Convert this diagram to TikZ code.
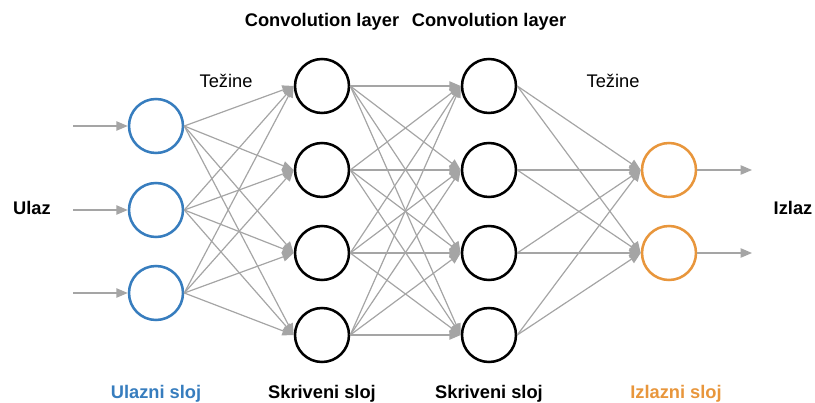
\documentclass[tikz,border=0pt]{standalone}
\usepackage{fontspec}
\setmainfont{Liberation Sans}
\usetikzlibrary{arrows.meta}
\definecolor{inblue}{RGB}{55,125,190}
\definecolor{outorange}{RGB}{232,150,60}
\definecolor{edgegray}{RGB}{165,165,165}
\begin{document}
\begin{tikzpicture}[x=0.75pt,y=-0.75pt,
  neuron/.style={circle,draw,line width=1.9pt,minimum size=40.5pt,inner sep=0pt},
  conn/.style={draw=edgegray,line width=0.9pt,-{Triangle[length=8.5pt,width=7pt]}},
  lbl/.style={font=\fontsize{13.7}{16}\selectfont,inner sep=0pt},
  blbl/.style={font=\fontsize{13.7}{16}\selectfont\bfseries,inner sep=0pt}]
\useasboundingbox (0,0) rectangle (815,403);
% input layer
\foreach \i/\y in {1/126,2/210,3/293} {
  \node[neuron,draw=inblue] (i\i) at (156,\y) {};
  \coordinate (s\i) at (73,\y);
  \draw[conn] (s\i) -- (i\i.west);
}
% hidden layers
\foreach \i/\y in {1/86,2/170,3/253,4/335} {
  \node[neuron,draw=black] (h\i) at (322,\y) {};
  \node[neuron,draw=black] (g\i) at (489,\y) {};
}
% output layer
\foreach \i/\y in {1/170,2/253} {
  \node[neuron,draw=outorange] (o\i) at (669,\y) {};
  \coordinate (e\i) at (752,\y);
  \draw[conn] (o\i.east) -- (e\i);
}
% connections
\foreach \a in {1,2,3} \foreach \b in {1,2,3,4} \draw[conn] (i\a.east) -- (h\b.west);
\foreach \a in {1,2,3,4} \foreach \b in {1,2,3,4} \draw[conn] (h\a.east) -- (g\b.west);
\foreach \a in {1,2,3,4} \foreach \b in {1,2} \draw[conn] (g\a.east) -- (o\b.west);
% labels
\node[blbl] (c1) at (322,22) {Convolution layer};
\node[blbl] (c2) at (489,22) {Convolution layer};
\node[lbl] (t1) at (226,81) {Težine};
\node[lbl] (t2) at (613,81) {Težine};
\node[blbl] (ul) at (32,208) {Ulaz};
\node[blbl] (iz) at (793,208) {Izlaz};
\node[blbl,text=inblue] (l1) at (156,394) {Ulazni sloj};
\node[blbl] (l2) at (322,394) {Skriveni sloj};
\node[blbl] (l3) at (489,394) {Skriveni sloj};
\node[blbl,text=outorange] (l4) at (676,394) {Izlazni sloj};
\end{tikzpicture}
\end{document}
